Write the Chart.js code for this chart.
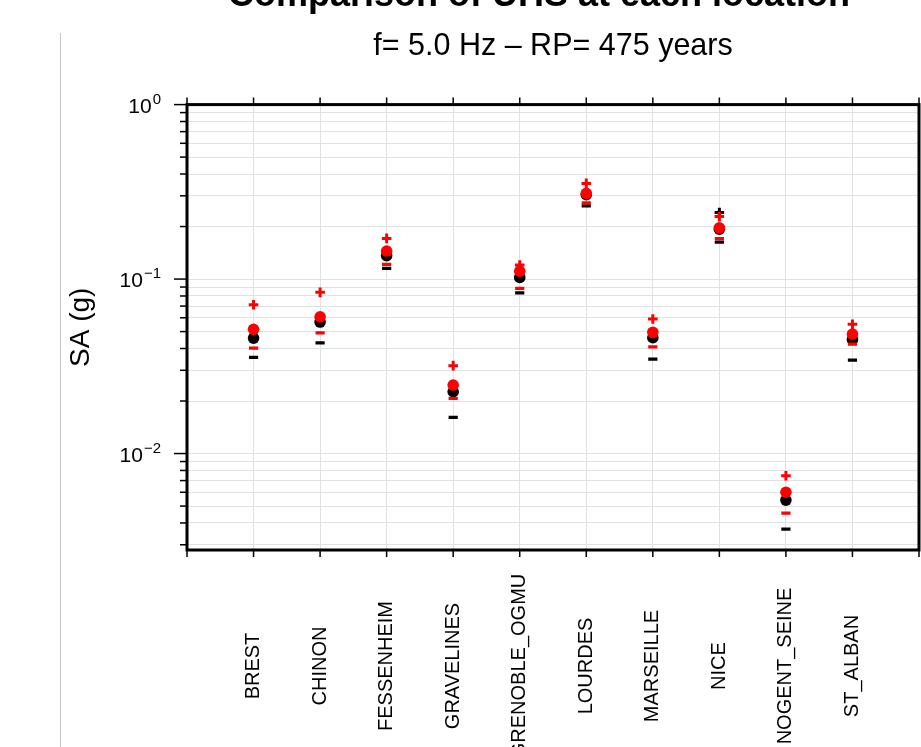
<!DOCTYPE html>
<html>
<head>
<meta charset="utf-8">
<title>SA per site</title>
<script src="https://cdn.jsdelivr.net/npm/chart.js@4.4.0/dist/chart.umd.min.js"></script>
<style>
  html, body { margin: 0; padding: 0; background: #ffffff; }
  #wrap { width: 921px; height: 747px; position: relative; }
</style>
</head>
<body>
<div id="wrap"><canvas id="sa" width="921" height="747"></canvas></div>
<script>
// Sites along the horizontal axis
const sites = ['BREST', 'CHINON', 'FESSENHEIM', 'GRAVELINES', 'GRENOBLE_OGMU',
               'LOURDES', 'MARSEILLE', 'NICE', 'NOGENT_SEINE', 'ST_ALBAN'];

// Spectral acceleration (g), black series
const blackDash = [0.0356, 0.0431, 0.1151, 0.0161, 0.0834, 0.263, 0.0348, 0.163, 0.00369, 0.0343];
const blackDot  = [0.0459, 0.0567, 0.1360, 0.0226, 0.1022, 0.305, 0.0461, 0.193, 0.00541, 0.0451];
const blackPlus = [0.0515, 0.0608, 0.1447, 0.0247, 0.1110, 0.310, 0.0495, 0.2405, 0.0060, 0.0484];

// Spectral acceleration (g), red series
const redDash = [0.0402, 0.0492, 0.1214, 0.0207, 0.0884, 0.2737, 0.0409, 0.1706, 0.00456, 0.0424];
const redDot  = [0.0515, 0.0608, 0.1447, 0.0247, 0.1110, 0.3098, 0.0495, 0.1967, 0.0060, 0.0484];
const redPlus = [0.0713, 0.0839, 0.1711, 0.0319, 0.1203, 0.3535, 0.0590, 0.2280, 0.00746, 0.0550];

// Logarithmic axis ticks: decade labels are written as base and exponent
const yMajorTicks    = [0.01, 0.1, 1];
const yMajorBase     = ['10', '10', '10'];
const yMajorExponent = ['\u22122', '\u22121', '0'];
const yMinorTicks    = [0.003, 0.004, 0.005, 0.006, 0.007, 0.008, 0.009,
                        0.02, 0.03, 0.04, 0.05, 0.06, 0.07, 0.08, 0.09,
                        0.2, 0.3, 0.4, 0.5, 0.6, 0.7, 0.8, 0.9];
const yMin = 0.0028;
const yMax = 1;

const chartTitle = 'f= 5.0 Hz \u2013 RP= 475 years';
const figureTitle = 'Comparison of UHS at each location';
const yTitle = 'SA (g)';

const FONT = "'Liberation Sans', Arial, Helvetica, sans-serif";
const GRID = '#e1e1e1';

function markerSet(label, values, color, style, radius, width, order) {
  return {
    label,
    data: sites.map((s, i) => ({ x: s, y: values[i] })),
    showLine: false,
    pointStyle: style,
    pointRadius: radius,
    pointHoverRadius: radius,
    pointBackgroundColor: color,
    pointBorderColor: color,
    pointBorderWidth: width,
    order
  };
}

// Frame, tick marks, decade labels, rotated site names and figure decorations
const framePlugin = {
  id: 'frame',
  beforeDraw(chart) {
    const ctx = chart.ctx;
    ctx.save();
    ctx.strokeStyle = '#c4c4c4';
    ctx.lineWidth = 1;
    ctx.beginPath();
    ctx.moveTo(60.5, 33);
    ctx.lineTo(60.5, 747);
    ctx.stroke();
    ctx.restore();
  },
  afterDraw(chart) {
    const ctx = chart.ctx;
    const { left, right, top, bottom } = chart.chartArea;
    const xs = chart.scales.x;
    const ys = chart.scales.y;
    ctx.save();

    // y tick marks (outside, left)
    ctx.strokeStyle = '#000';
    ctx.lineWidth = 1.5;
    ys.ticks.forEach(t => {
      const y = ys.getPixelForValue(t.value);
      const len = yMajorTicks.includes(t.value) ? 13 : 7;
      ctx.beginPath();
      ctx.moveTo(left - len, y);
      ctx.lineTo(left, y);
      ctx.stroke();
    });

    // decade labels with raised exponents
    ctx.fillStyle = '#000';
    ctx.textBaseline = 'alphabetic';
    ctx.textAlign = 'left';
    yMajorTicks.forEach((v, k) => {
      const y = ys.getPixelForValue(v);
      ctx.font = '15px ' + FONT;
      const ew = ctx.measureText(yMajorExponent[k]).width;
      ctx.font = '21px ' + FONT;
      const bw = ctx.measureText(yMajorBase[k]).width;
      const xEnd = left - 26;
      const xb = xEnd - ew - bw - 1;
      ctx.fillText(yMajorBase[k], xb, y + 8);
      ctx.font = '15px ' + FONT;
      ctx.fillText(yMajorExponent[k], xb + bw + 1, y - 1);
    });

    // x tick marks (outside, bottom and top)
    xs.ticks.forEach((t, i) => {
      const x = xs.getPixelForTick(i);
      ctx.beginPath();
      ctx.moveTo(x, bottom);
      ctx.lineTo(x, bottom + 7);
      ctx.moveTo(x, top);
      ctx.lineTo(x, top - 7);
      ctx.stroke();
    });

    // plot frame
    ctx.lineWidth = 3;
    ctx.strokeRect(left, top, right - left, bottom - top);

    // site names, rotated and centred on a common line
    ctx.font = '20px ' + FONT;
    ctx.textAlign = 'center';
    ctx.textBaseline = 'middle';
    sites.forEach(s => {
      const x = xs.getPixelForValue(s);
      ctx.save();
      ctx.translate(x, 666);
      ctx.rotate(-Math.PI / 2);
      ctx.fillText(s, 0, 0);
      ctx.restore();
    });

    // figure heading above the panel
    ctx.font = 'bold 36px ' + FONT;
    ctx.textAlign = 'left';
    ctx.textBaseline = 'alphabetic';
    ctx.fillText(figureTitle, 228, 6);

    ctx.restore();
  }
};

new Chart(document.getElementById('sa'), {
  type: 'line',
  data: {
    labels: [''].concat(sites, [' ']),
    datasets: [
      markerSet('black dash', blackDash, '#000000', 'line', 4.6, 3.2, 3),
      markerSet('black dot', blackDot, '#000000', 'circle', 5.8, 0, 3),
      markerSet('black plus', blackPlus, '#000000', 'cross', 4.8, 3, 2),
      markerSet('red dash', redDash, '#ff0000', 'line', 4.6, 3.2, 1),
      markerSet('red dot', redDot, '#ff0000', 'circle', 5.8, 0, 1),
      markerSet('red plus', redPlus, '#ff0000', 'cross', 4.8, 3, 0)
    ]
  },
  options: {
    responsive: false,
    animation: false,
    devicePixelRatio: 1,
    layout: { autoPadding: false, padding: { left: 0, right: 2, top: 0, bottom: 0 } },
    plugins: {
      legend: { display: false },
      tooltip: { enabled: false },
      title: {
        display: true,
        text: chartTitle,
        fullSize: false,
        color: '#000',
        font: { family: FONT, size: 30.5, weight: 'normal', lineHeight: 1.2 },
        padding: { top: 28, bottom: 40 }
      }
    },
    scales: {
      x: {
        type: 'category',
        offset: false,
        border: { display: false },
        grid: { color: GRID, lineWidth: 1, drawTicks: false },
        ticks: { display: false, autoSkip: false },
        afterFit(scale) { scale.height = 197; }
      },
      y: {
        type: 'logarithmic',
        min: yMin,
        max: yMax,
        border: { display: false },
        grid: { color: GRID, lineWidth: 1, drawTicks: false },
        afterBuildTicks(scale) {
          const vals = yMinorTicks.concat(yMajorTicks).sort((a, b) => a - b);
          scale.ticks = vals.filter(v => v >= yMin && v <= yMax).map(v => ({ value: v }));
        },
        ticks: {
          autoSkip: false,
          padding: 26,
          font: { family: FONT, size: 20 },
          callback() { return ''; }
        },
        title: {
          display: true,
          text: yTitle,
          color: '#000',
          font: { family: FONT, size: 28 },
          padding: { top: 64, bottom: 0 }
        },
        afterFit(scale) { scale.width = 187; }
      }
    }
  },
  plugins: [framePlugin]
});
</script>
</body>
</html>
